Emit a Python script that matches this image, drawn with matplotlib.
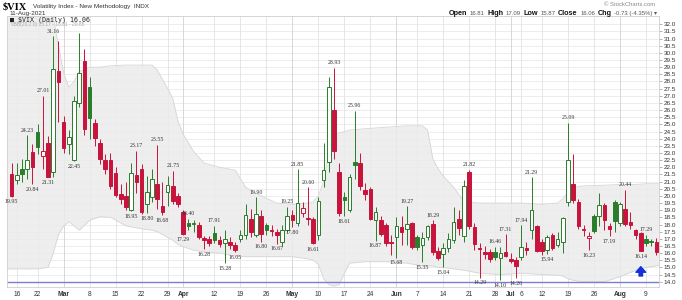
import numpy as np
import matplotlib
matplotlib.use("Agg")
import matplotlib.pyplot as plt

plt.rcParams['font.family'] = ['Liberation Sans', 'DejaVu Sans']

# $VIX daily candles, 12-Feb-2021 .. 11-Aug-2021 (one entry per trading day)
opens = [21.5, 21.1, 21.9, 21.9, 23.1, 24.5, 22.8, 23.7, 21.7, 28.7,
         25.2, 23.6, 22.5, 26.5, 29.4, 27.6, 25.1, 23.7, 22.5, 22.5,
         21.6, 20.1, 20.0, 19.0, 21.45, 21.9, 19.4, 19.9, 20.8, 19.3,
         20.3, 20.7, 20.0, 18.85, 18.1, 18.05, 17.95, 17.05, 17.0, 17.4,
         16.95, 16.7, 16.8, 16.6, 17.0, 17.3, 18.4, 17.3, 18.6, 17.95,
         17.65, 17.45, 16.8, 17.6, 18.65, 18.1, 18.8, 18.45, 18.4, 17.3,
         21.1, 22.4, 26.0, 21.7, 19.9, 19.0, 22.4, 22.3, 20.4, 20.5,
         18.3, 18.3, 17.96, 16.78, 17.15, 17.8, 17.7, 18.1, 17.1, 16.55,
         17.15, 18.05, 16.15, 15.95, 16.35, 16.9, 18.4, 17.2, 21.7, 17.85,
         16.35, 16.1, 16.05, 16.05, 15.65, 16.1, 15.6, 15.5, 15.7, 16.35,
         17.6, 17.9, 16.8, 16.2, 17.25, 16.6, 16.75, 19.6, 20.8, 19.6,
         17.6, 17.05, 18.6, 18.6, 19.35, 17.9, 19.6, 18.1, 19.1, 18.2,
         17.6, 17.4, 17.0, 16.8, 16.81]
highs = [22.3, 22.3, 22.6, 24.23, 23.6, 25.0, 27.01, 24.2, 31.16, 30.8,
         25.6, 24.6, 27.0, 31.4, 30.3, 28.3, 25.4, 24.0, 22.9, 23.0,
         22.0, 20.8, 21.0, 22.3, 23.17, 22.2, 21.4, 21.9, 23.55, 21.0,
         21.4, 21.75, 20.2, 19.0, 18.40, 18.3, 18.2, 17.2, 17.2, 17.91,
         17.2, 17.6, 17.1, 16.8, 17.6, 19.4, 19.1, 19.90, 19.0, 18.1,
         18.0, 17.7, 18.0, 19.25, 19.0, 21.85, 19.6, 20.60, 18.5, 19.9,
         23.7, 28.3, 28.93, 22.3, 20.3, 21.5, 25.96, 23.0, 20.9, 20.6,
         19.2, 18.6, 18.1, 17.26, 18.5, 18.6, 19.27, 18.2, 17.3, 17.5,
         18.0, 18.29, 16.4, 16.7, 17.4, 19.2, 19.0, 21.1, 21.82, 18.1,
         16.7, 16.5, 16.3, 16.46, 16.4, 17.31, 16.0, 15.7, 17.94, 16.8,
         21.29, 18.0, 17.0, 17.3, 17.4, 17.5, 18.5, 25.09, 22.9, 19.8,
         18.0, 17.5, 18.7, 20.2, 19.5, 18.1, 19.7, 19.6, 20.44, 18.9,
         17.7, 17.5, 17.29, 17.0, 17.09]
lows = [19.95, 20.8, 21.0, 21.2, 20.84, 22.9, 21.9, 21.31, 21.3, 25.2,
        23.0, 22.9, 22.45, 26.2, 24.25, 24.0, 23.5, 22.2, 21.5, 20.5,
        19.9, 19.4, 19.0, 18.95, 20.2, 18.75, 18.80, 19.6, 19.1, 18.68,
        19.3, 19.4, 19.2, 17.29, 17.6, 17.5, 17.0, 16.28, 16.5, 16.7,
        16.4, 15.28, 16.3, 16.05, 16.8, 17.0, 17.1, 17.1, 16.80, 17.3,
        17.2, 16.67, 16.5, 17.5, 17.80, 17.9, 18.5, 18.0, 16.61, 16.9,
        20.6, 21.7, 22.6, 18.6, 18.61, 18.9, 21.2, 20.4, 19.7, 18.3,
        16.87, 17.2, 16.5, 15.86, 15.68, 16.6, 16.6, 16.3, 16.2, 15.35,
        16.9, 15.9, 15.5, 15.04, 16.1, 16.7, 17.3, 16.8, 17.7, 16.2,
        14.29, 15.6, 15.4, 15.5, 14.10, 15.7, 15.3, 14.26, 15.5, 15.9,
        17.0, 16.1, 15.9, 15.94, 16.2, 16.4, 16.0, 19.3, 19.5, 17.7,
        17.2, 16.23, 17.4, 17.9, 17.6, 17.19, 17.5, 17.9, 17.9, 17.7,
        17.0, 16.14, 16.5, 16.5, 15.87]
closes = [19.97, 21.46, 21.50, 22.49, 22.05, 23.45, 23.11, 21.34, 28.89, 27.95,
          23.35, 24.10, 26.67, 28.57, 24.66, 25.47, 24.03, 22.56, 21.91, 20.69,
          20.03, 19.79, 19.23, 21.58, 20.95, 18.88, 20.30, 21.20, 19.81, 18.86,
          20.74, 19.61, 19.40, 17.33, 17.91, 18.12, 17.16, 16.95, 16.69, 16.91,
          16.65, 16.99, 16.57, 16.25, 17.30, 18.68, 17.50, 18.71, 17.33, 17.64,
          17.56, 17.28, 17.61, 18.61, 18.31, 19.48, 19.15, 18.39, 16.69, 19.66,
          21.84, 27.59, 23.13, 18.81, 19.72, 21.34, 22.18, 20.67, 20.15, 18.40,
          18.84, 17.36, 16.74, 16.72, 17.90, 17.48, 18.04, 16.42, 16.45, 17.07,
          17.89, 16.10, 15.65, 16.39, 17.02, 18.15, 17.75, 20.70, 17.89, 16.66,
          16.32, 15.97, 15.62, 15.76, 16.02, 15.83, 15.48, 15.07, 16.44, 16.20,
          19.00, 16.18, 16.17, 17.12, 16.33, 17.01, 18.45, 22.50, 19.73, 17.91,
          17.69, 17.20, 17.58, 19.36, 18.31, 17.70, 18.24, 19.46, 18.04, 17.97,
          17.28, 16.15, 16.72, 16.79, 16.06]

band_idx = [-1, 5, 7, 8, 9, 10, 11, 12, 13, 15, 17, 19, 22, 25, 27, 28, 30, 31,
            32, 33, 35, 37, 40, 43, 45, 48, 51, 54, 57, 58, 59, 60, 61, 62, 63,
            64, 65, 68, 72, 76, 79, 80, 81, 82, 83, 85, 87, 90, 94, 98, 102,
            105, 106, 107, 108, 110, 114, 117, 120, 122, 125]
band_upper = [33.5, 33.5, 33.5, 32.5, 30.5, 28.6, 27.6, 28.0, 28.7, 29.0, 29.0,
              29.1, 29.15, 29.15, 29.15, 28.8, 27.5, 26.8, 25.2, 24.3, 23.1,
              22.3, 22.0, 21.8, 20.6, 20.0, 19.5, 19.4, 19.5, 19.6, 20.0, 21.0,
              23.0, 24.2, 24.4, 24.5, 24.6, 24.7, 24.8, 24.9, 24.9, 24.6, 22.6,
              21.9, 21.4, 20.6, 19.6, 19.5, 19.5, 19.5, 19.4, 19.5, 19.8, 20.3,
              20.6, 20.7, 20.75, 20.8, 20.8, 20.85, 20.85]
band_lower = [14.9, 14.9, 15.0, 16.0, 17.3, 17.9, 18.2, 17.9, 17.6, 18.3, 18.55,
              18.5, 17.9, 17.7, 17.6, 17.5, 17.1, 16.9, 16.6, 16.45, 16.2, 16.1,
              16.0, 15.8, 15.75, 15.75, 15.75, 15.75, 15.6, 15.5, 15.2, 14.2,
              13.8, 13.7, 13.8, 14.6, 15.3, 15.4, 15.4, 15.3, 15.1, 15.1, 15.1,
              15.0, 15.0, 14.9, 14.8, 14.6, 14.5, 14.6, 14.5, 14.45, 14.4, 14.2,
              14.1, 14.0, 14.0, 14.35, 14.8, 15.0, 15.17]

# swing-point value labels: (trading day, value)
high_labels = [(3, 24.23), (6, 27.01), (8, 31.16), (24, 23.17), (28, 23.55),
               (31, 21.75), (34, 18.40), (39, 17.91), (47, 19.90), (53, 19.25),
               (55, 21.85), (57, 20.60), (62, 28.93), (66, 25.96), (76, 19.27),
               (81, 18.29), (88, 21.82), (93, 16.46), (95, 17.31), (98, 17.94),
               (100, 21.29), (107, 25.09), (118, 20.44), (122, 17.29)]
low_labels = [(0, 19.95), (4, 20.84), (7, 21.31), (12, 22.45), (23, 18.95),
              (26, 18.80), (29, 18.68), (33, 17.29), (37, 16.28), (41, 15.28),
              (43, 16.05), (48, 16.80), (51, 16.67), (54, 17.80), (58, 16.61),
              (64, 18.61), (70, 16.87), (74, 15.68), (79, 15.35), (83, 15.04),
              (90, 14.29), (94, 14.10), (97, 14.26), (103, 15.94), (111, 16.23),
              (115, 17.19), (121, 16.14)]

# date axis: (trading day, label, is month)
date_ticks = [(1, '16', False), (5, '22', False), (10, 'Mar', True), (15, '8', False),
              (20, '15', False), (25, '22', False), (30, '29', False), (33, 'Apr', True),
              (39, '12', False), (44, '19', False), (49, '26', False), (54, 'May', True),
              (59, '10', False), (64, '17', False), (69, '24', False), (74, 'Jun', True),
              (78, '7', False), (83, '14', False), (88, '21', False), (93, '28', False),
              (96, 'Jul', True), (98, '6', False), (102, '12', False), (107, '19', False),
              (112, '26', False), (117, 'Aug', True), (122, '9', False)]

RED = '#c8143c'
GREEN = '#2a7d2a'

fig = plt.figure(figsize=(6.82, 3.0), dpi=100)
ax = fig.add_axes([7 / 682, 13 / 300, 652 / 682, 271 / 300])
ax.set_xlim(-0.9, 124.5)
ax.set_ylim(13.63, 32.58)

# grid
for v in np.arange(14.0, 32.01, 0.5):
    ax.axhline(v, color='#e6e6e6', lw=0.5, zorder=0)
for pos, lab, is_month in date_ticks:
    ax.axvline(pos, color='#d2d2d2' if is_month else '#e2e2e2', lw=0.6, zorder=0)

# bollinger band
ax.fill_between(band_idx, band_lower, band_upper, color='#ebebeb', alpha=0.85,
                lw=0, zorder=1)
ax.plot(band_idx, band_upper, color='#d6d6d6', lw=0.6, zorder=1)
ax.plot(band_idx, band_lower, color='#d6d6d6', lw=0.6, zorder=1)

ax.axhline(14.0, color='#7c7cd8', lw=1.0, zorder=2)

# candles
o = np.array(opens); h = np.array(highs); l = np.array(lows); c = np.array(closes)
x = np.arange(len(c))
prev = np.concatenate([[o[0]], c[:-1]])
cols = [GREEN if c[i] >= prev[i] else RED for i in x]
hollow = c > o
ax.vlines(x, l, h, colors=cols, lw=0.7, zorder=3)
bottom = np.minimum(o, c)
height = np.maximum(np.abs(c - o), 0.05)
face = ['white' if hollow[i] else cols[i] for i in x]
ax.bar(x, height, bottom=bottom, width=0.7, color=face, edgecolor=cols,
       linewidth=0.7, zorder=4)

for i, v in high_labels:
    ax.annotate(f'{v:.2f}', (i, v), xytext=(0, 2), textcoords='offset points',
                ha='center', va='bottom', fontsize=4.2, color='#333333',
                family='Liberation Serif', zorder=5)
for i, v in low_labels:
    ax.annotate(f'{v:.2f}', (i, v), xytext=(0, -2), textcoords='offset points',
                ha='center', va='top', fontsize=4.2, color='#333333',
                family='Liberation Serif', zorder=5)

# blue arrow under the last low
ax.annotate('', xy=(121, 15.05), xytext=(121, 14.4),
            arrowprops=dict(facecolor='#1530d8', edgecolor='#1530d8', width=2.5,
                            headwidth=7, headlength=4), zorder=5)

# axes styling
for s in ax.spines.values():
    s.set_color('#cfcfcf')
    s.set_linewidth(0.6)
ax.yaxis.tick_right()
ax.set_yticks(np.arange(14.0, 32.01, 0.5))
ax.set_yticklabels([f'{v:.1f}' for v in np.arange(14.0, 32.01, 0.5)])
ax.tick_params(axis='y', labelsize=4.6, length=2, width=0.5, color='#999999',
               labelcolor='#333333', pad=1.5)
ax.set_xticks([t[0] for t in date_ticks])
ax.set_xticklabels([t[1] for t in date_ticks])
ax.tick_params(axis='x', labelsize=4.8, length=0, pad=3, labelcolor='#333333')
for lab, t in zip(ax.get_xticklabels(), date_ticks):
    if t[2]:
        lab.set_fontweight('bold')

# legend lines inside the plot
ax.text(0.004, 0.999, '\u25a0 $VIX (Daily) 16.06', transform=ax.transAxes,
        fontsize=4.8, family='DejaVu Sans Mono', color='#222222', va='top')
ax.text(0.006, 0.977, '\u2248BB(20,2.0) 15.17 - 18.01 - 20.85', transform=ax.transAxes,
        fontsize=3.5, color='#aaaaaa', va='top')

# header
fig.text(3 / 682, 1 - 6.5 / 300, '$VIX', fontsize=7.5, fontweight='bold',
         family='Liberation Serif', va='center')
fig.text(33 / 682, 1 - 6.5 / 300, 'Volatility Index - New Methodology  INDX',
         fontsize=4.6, color='#333333', va='center')
fig.text(9 / 682, 1 - 13.5 / 300, '11-Aug-2021', fontsize=4.6, color='#333333',
         va='center')
fig.text(655 / 682, 1 - 4.5 / 300, '\u00a9 StockCharts.com', fontsize=4.2,
         color='#888888', va='center', ha='right')

renderer = fig.canvas.get_renderer()
parts = [('Open', True), ('16.81', False), ('High', True), ('17.09', False),
         ('Low', True), ('15.87', False), ('Close', True), ('16.06', False),
         ('Chg', True), ('-0.73 (-4.35%) \u25be', False)]
texts = []
xpos = 0
for s, bold in parts:
    t = fig.text(xpos / 682, 1 - 13.5 / 300, s, fontsize=5.2 if bold else 4.3,
                 fontweight='bold' if bold else 'normal',
                 color='#111111' if bold else '#555555', va='center')
    bb = t.get_window_extent(renderer)
    texts.append((t, xpos))
    xpos = bb.x1 + 2.5
shift = 657 - (xpos - 2.5)
for t, px in texts:
    t.set_x((px + shift) / 682)

fig.savefig('out.png', dpi=100)
